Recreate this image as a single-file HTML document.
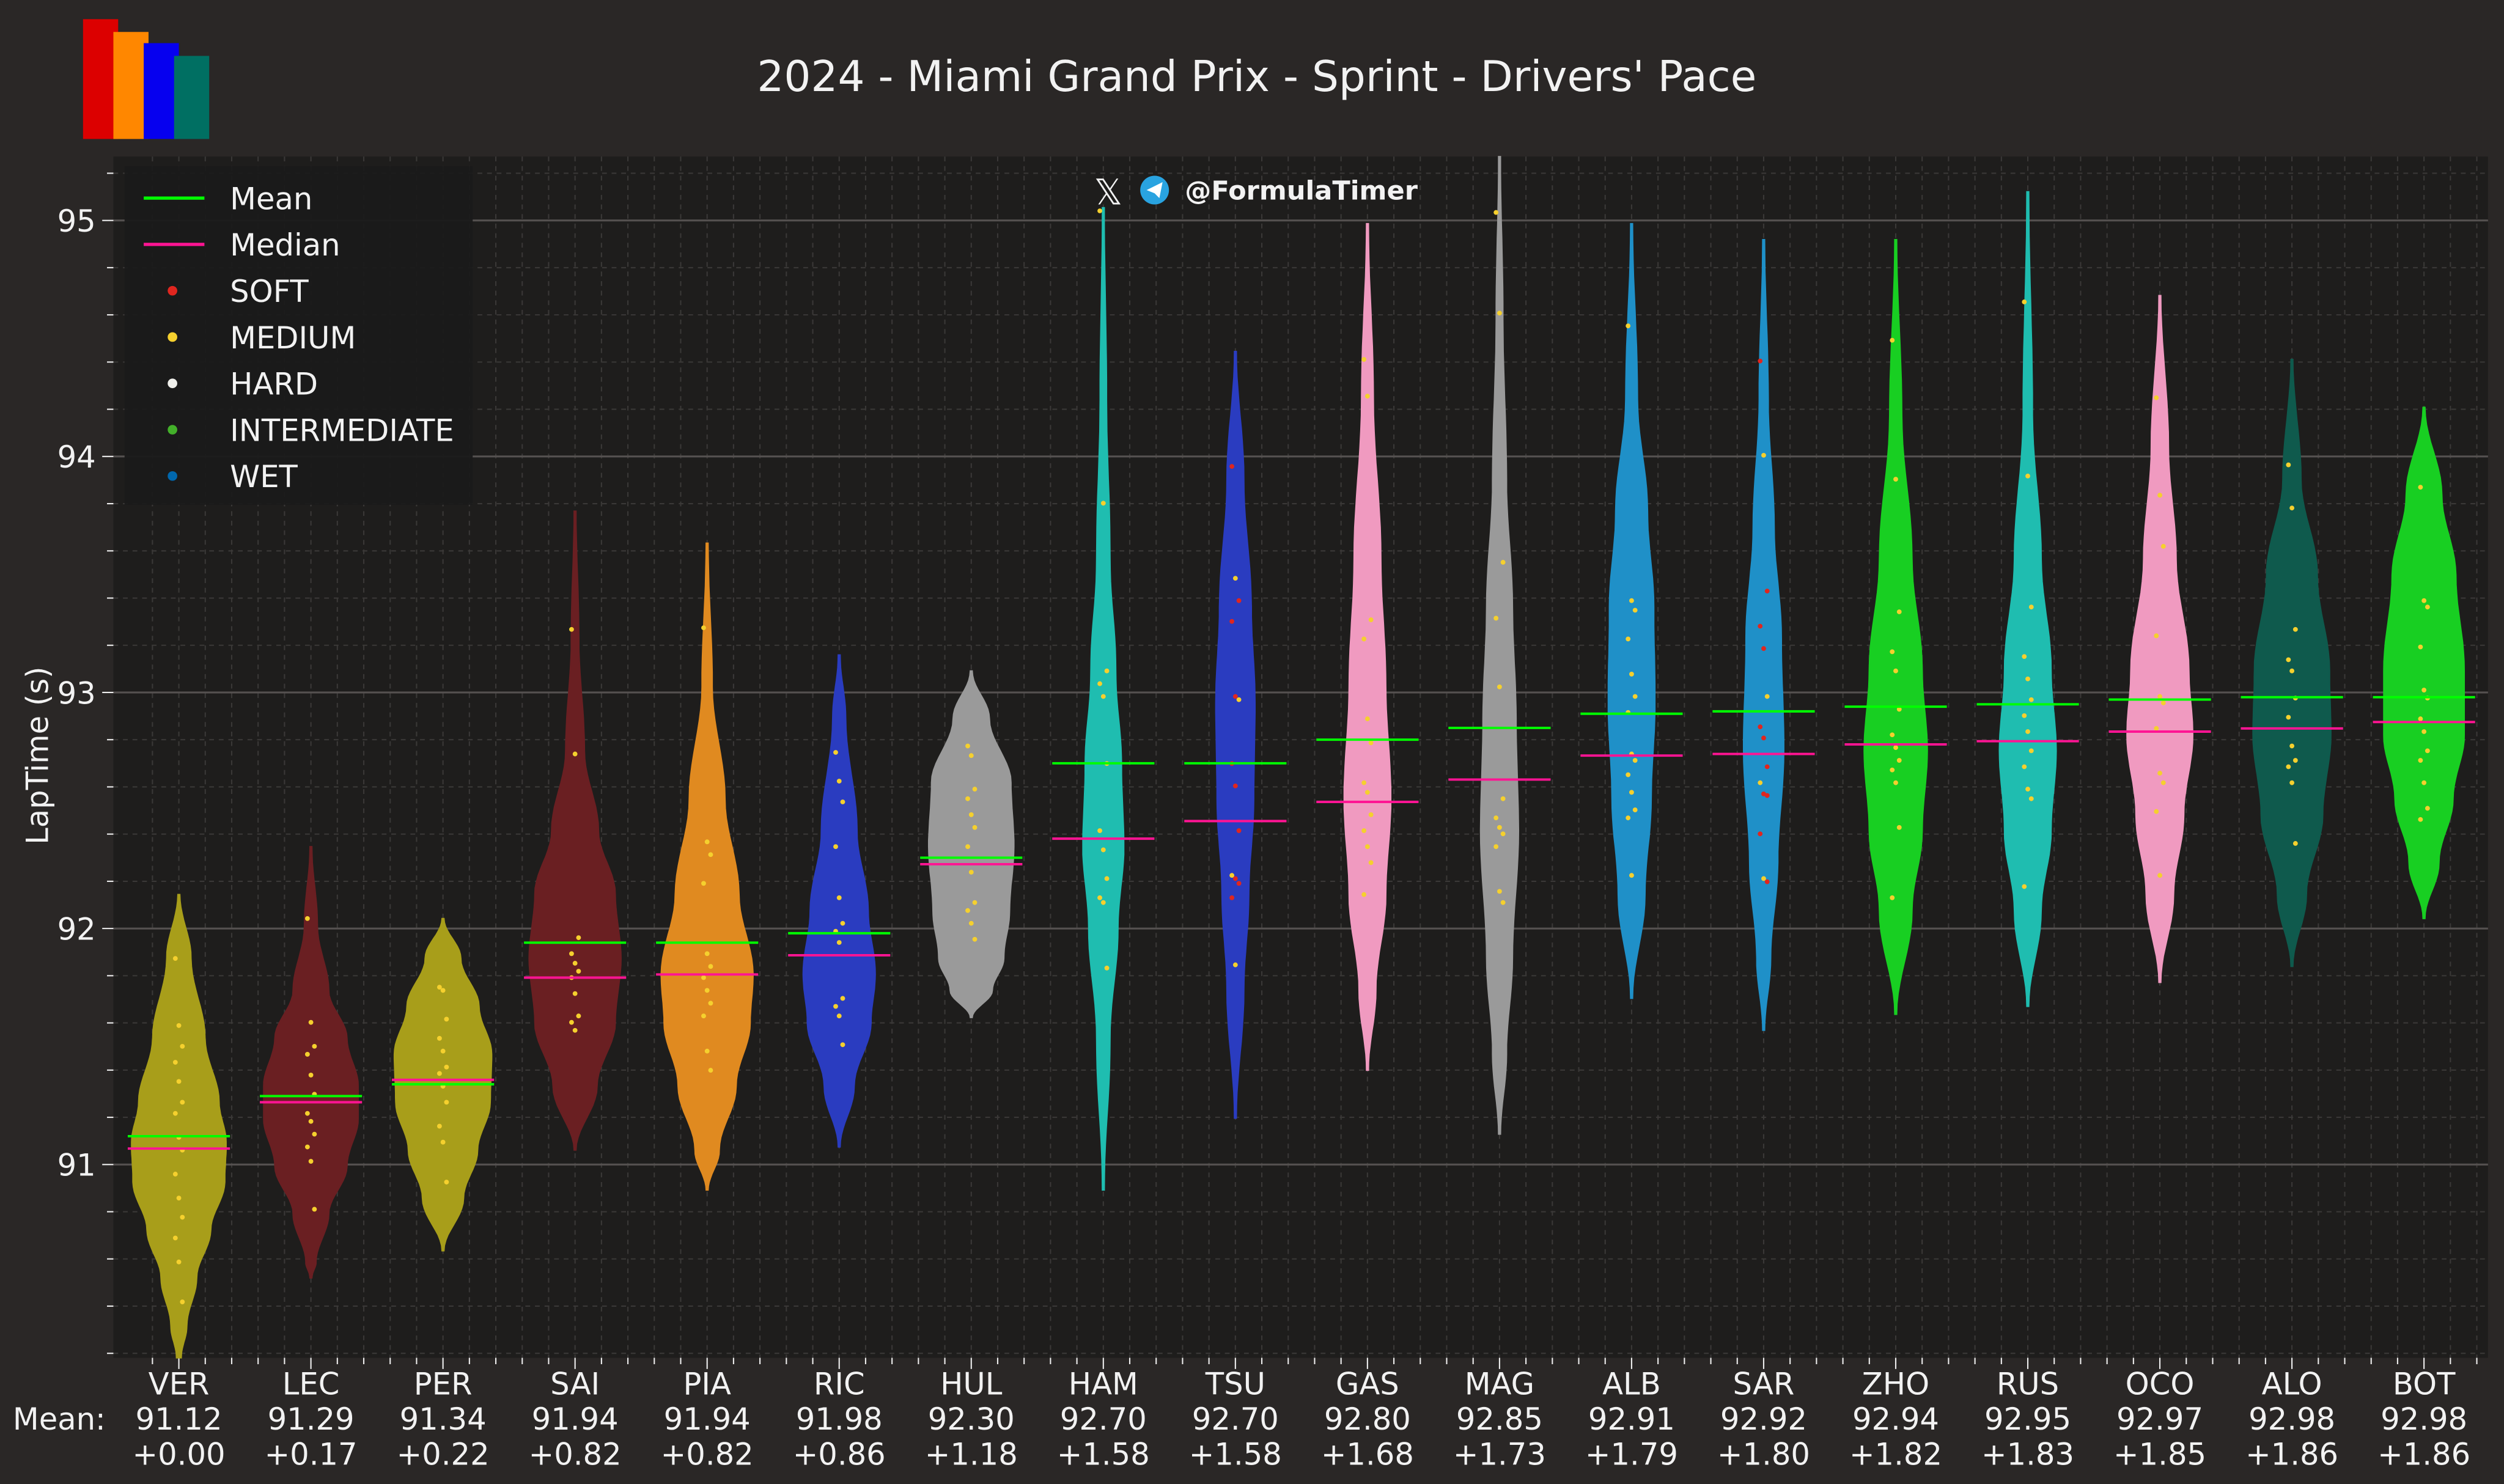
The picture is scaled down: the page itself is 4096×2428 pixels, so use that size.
<!DOCTYPE html>
<html><head><meta charset="utf-8"><style>
html,body{margin:0;padding:0;background:#2a2726;}
svg{display:block;}
text{font-family:"DejaVu Sans","Liberation Sans",sans-serif;fill:#f2f2f2;}
</style></head><body>
<svg id="s" width="4096" height="2428" viewBox="0 0 1568 929" preserveAspectRatio="none" xmlns="http://www.w3.org/2000/svg">
<rect width="1568" height="929" fill="#2a2726"/>
<rect x="52" y="12" width="22" height="75" fill="#dc0000"/>
<rect x="71" y="20" width="22" height="67" fill="#ff8700"/>
<rect x="90" y="27" width="22" height="60" fill="#0600ef"/>
<rect x="109" y="35" width="22" height="52" fill="#006f62"/>
<text x="787" y="57" font-size="26.5" text-anchor="middle">2024 - Miami Grand Prix - Sprint - Drivers' Pace</text>
<rect x="71" y="98" width="1487" height="752" fill="#1e1d1c"/>
<g id="grid"></g>
<g id="vio"></g>
<g id="leg">
<rect x="78" y="104" width="218" height="212" fill="#1a1a1a" opacity="0.95"/>
<line x1="90" y1="124" x2="128" y2="124" stroke="#00ff00" stroke-width="2"/>
<text x="144" y="131" font-size="19">Mean</text>
<line x1="90" y1="153" x2="128" y2="153" stroke="#ff1493" stroke-width="2"/>
<text x="144" y="160" font-size="19">Median</text>
<circle cx="108" cy="182" r="3" fill="#e0261f"/><text x="144" y="189" font-size="19">SOFT</text>
<circle cx="108" cy="211" r="3" fill="#f5d02e"/><text x="144" y="218" font-size="19">MEDIUM</text>
<circle cx="108" cy="240" r="3" fill="#f0f0ec"/><text x="144" y="247" font-size="19">HARD</text>
<circle cx="108" cy="269" r="3" fill="#43b02a"/><text x="144" y="276" font-size="19">INTERMEDIATE</text>
<circle cx="108" cy="298" r="3" fill="#0067ad"/><text x="144" y="305" font-size="19">WET</text>
</g>
<g>
<text x="694" y="128" font-size="22" text-anchor="middle" style="font-family:'DejaVu Sans',sans-serif">𝕏</text>
<circle cx="723" cy="119" r="9" fill="#29a3e0"/>
<path d="M718 119 L728 114 L726 124 L723 121 Z" fill="#fff"/>
<text x="742" y="125" font-size="16.5" font-weight="bold">@FormulaTimer</text>
</g>
<text transform="translate(30,473) rotate(-90)" font-size="19" text-anchor="middle">LapTime (s)</text>
<text x="8" y="895" font-size="19">Mean:</text>
<g id="lab"></g>
</svg>
<script>
const NS="http://www.w3.org/2000/svg";
function el(p,t,a,txt){const e=document.createElementNS(NS,t);for(const k in a)e.setAttribute(k,a[k]);if(txt!==undefined)e.textContent=txt;p.appendChild(e);return e;}
const Y=v=>729-(v-91)*147.75;
const g=document.getElementById('grid'),vg=document.getElementById('vio'),lb=document.getElementById('lab');
const x0=112,dx=82.7;
for(let i=-1;i<=18*5;i++){const x=x0+i*dx/5;if(x<71||x>1558)continue;
 el(g,'line',{x1:x,y1:98,x2:x,y2:850,stroke:'#3a3837','stroke-width':0.8,'stroke-dasharray':'3,3'});
 el(g,'line',{x1:x,y1:850,x2:x,y2:(i%5==0)?857:854,stroke:'#eee','stroke-width':0.8});}
for(let v=90.2;v<95.3;v+=0.2){const y=Y(v);if(y<98||y>850)continue;const maj=Math.abs(v-Math.round(v))<0.01;
 el(g,'line',{x1:71,y1:y,x2:1558,y2:y,stroke:maj?'#555150':'#3a3837','stroke-width':maj?1.2:0.8,'stroke-dasharray':maj?'':'3,3'});
 el(g,'line',{x1:maj?64:67,y1:y,x2:71,y2:y,stroke:'#eee','stroke-width':0.8});
 if(maj)el(g,'text',{x:60,y:y+7,'font-size':19,'text-anchor':'end'},Math.round(v));}
const D=[
['VER','#a89e1a',91.12,'+0.00',719,[[560,0],[600,8],[650,18],[690,28],[715,33],[740,32],[770,22],[800,12],[830,5],[850,1]],'y',[600,642,655,665,677,690,697,712,720,735,750,762,775,790,815]],
['LEC','#6a1f22',91.29,'+0.17',690,[[530,0],[580,4],[620,12],[650,25],[680,33],[700,33],[730,25],[760,12],[790,3],[800,0]],'y',[575,640,655,660,673,685,697,702,710,718,727,757]],
['PER','#a89e1a',91.34,'+0.22',676,[[575,0],[600,12],[630,25],[660,34],[690,33],[720,24],[750,14],[783,0]],'y',[618,620,638,650,658,668,672,680,690,705,715,740]],
['SAI','#6a1f22',91.94,'+0.82',612,[[320,0],[400,2],[470,6],[520,16],[560,28],[600,32],[640,28],[680,15],[720,0]],'y',[394,472,587,597,603,608,612,622,636,640,645]],
['PIA','#e08a20',91.94,'+0.82',610,[[340,0],[430,3],[500,12],[560,22],[610,32],[640,30],[680,20],[720,8],[745,0]],'y',[393,527,535,553,597,605,612,620,628,636,658,670]],
['RIC','#2a3cc0',91.98,'+0.86',598,[[410,0],[450,4],[520,12],[570,20],[610,25],[640,22],[680,10],[718,0]],'y',[471,489,502,530,562,578,583,590,625,630,636,654]],
['HUL','#9a9a9a',92.30,'+1.18',541,[[420,0],[450,12],[490,27],[530,29],[570,26],[600,22],[620,14],[637,0]],'y',[467,473,494,500,510,518,530,546,565,570,578,588]],
['HAM','#1fbdb0',92.70,'+1.58',525,[[130,0],[250,2],[350,5],[420,10],[480,15],[530,17],[580,12],[650,5],[745,0]],'y',[132,315,420,428,436,478,520,532,550,562,565,606]],
['TSU','#2a3cc0',92.70,'+1.58',514,[[220,0],[300,6],[380,12],[440,15],[500,14],[560,10],[620,6],[700,0]],'r',[292,362,376,389,436,438,478,492,520,548,550,553,562,604]],
['GAS','#f09ac0',92.80,'+1.68',502,[[140,0],[250,4],[350,10],[430,14],[500,18],[560,14],[620,6],[670,0]],'y',[225,248,388,400,450,465,490,496,510,520,530,540,560]],
['MAG','#9a9a9a',92.85,'+1.73',488,[[98,0],[200,2],[300,5],[380,10],[450,13],[520,15],[600,10],[660,5],[710,0]],'y',[133,196,352,387,430,500,512,518,522,530,558,565]],
['ALB','#1f90c8',92.91,'+1.79',473,[[140,0],[250,4],[320,12],[380,17],[440,18],[500,15],[560,10],[625,0]],'y',[204,376,382,400,422,436,446,472,476,485,496,507,512,548]],
['SAR','#1f90c8',92.92,'+1.80',472,[[150,0],[250,3],[330,8],[400,14],[470,16],[540,11],[600,5],[645,0]],'r',[226,285,370,392,406,436,455,462,480,490,497,498,522,550,552]],
['ZHO','#18cf22',92.94,'+1.82',466,[[150,0],[260,4],[350,12],[420,20],[470,24],[520,20],[570,12],[635,0]],'y',[213,300,383,408,420,444,460,468,476,482,490,518,562]],
['RUS','#1fbdb0',92.95,'+1.83',464,[[120,0],[260,3],[350,10],[420,18],[470,22],[520,18],[570,10],[630,0]],'y',[189,298,380,411,425,438,448,458,470,480,494,500,555]],
['OCO','#f09ac0',92.97,'+1.85',458,[[185,0],[280,6],[350,12],[420,22],[460,25],[510,18],[560,10],[615,0]],'y',[249,310,342,398,436,440,456,484,490,508,548]],
['ALO','#0f5a4d',92.98,'+1.86',456,[[225,0],[300,6],[360,18],[420,27],[460,28],[510,22],[560,10],[605,0]],'y',[291,318,394,413,420,437,449,467,476,480,490,528]],
['BOT','#18cf22',92.98,'+1.86',452,[[255,0],[310,12],[360,22],[420,28],[460,28],[500,20],[540,10],[575,0]],'y',[305,376,380,405,432,437,450,458,470,476,490,506,513]]
];
const SC=[0.88,0.88,0.88,0.88,0.88,0.88,0.9,0.72,0.78,0.78,0.75,0.78,0.75,0.8,0.78,0.8,0.85,0.88];
D.forEach((d,i)=>{const cx=x0+i*dx;const pts=d[5];const sc=SC[i];
 const dense=[];for(let k=0;k<pts.length-1;k++){const [ya,wa]=pts[k],[yb,wb]=pts[k+1];for(let t=0;t<1;t+=0.1){const s=(1-Math.cos(t*Math.PI))/2;dense.push([ya+(yb-ya)*t,(wa+(wb-wa)*s)*sc]);}}
 const L=pts[pts.length-1];dense.push([L[0],L[1]*sc]);
 let p='M'+dense.map(q=>(cx+q[1]+0.6).toFixed(1)+' '+q[0].toFixed(1)).join(' L');
 p+=' L'+dense.slice().reverse().map(q=>(cx-q[1]-0.6).toFixed(1)+' '+q[0].toFixed(1)).join(' L')+'Z';
 el(vg,'path',{d:p,fill:d[1],stroke:d[1],'stroke-width':0.8});
 const col=d[6]=='r'?'#e0261f':'#f5d02e';
 d[7].forEach((y,j)=>{el(vg,'circle',{cx:cx+((j%3)-1)*2.2,cy:y,r:1.5,fill:(d[6]=='r'&&j%4==1)?'#f5d02e':col});});
 const my=Y(d[2]);
 el(vg,'line',{x1:cx-32,y1:my,x2:cx+32,y2:my,stroke:'#00ff00','stroke-width':1.5});
 el(vg,'line',{x1:cx-32,y1:d[4],x2:cx+32,y2:d[4],stroke:'#ff1493','stroke-width':1.5});
 el(lb,'text',{x:cx,y:873,'font-size':19,'text-anchor':'middle'},d[0]);
 el(lb,'text',{x:cx,y:895,'font-size':19,'text-anchor':'middle'},d[2].toFixed(2));
 el(lb,'text',{x:cx,y:917,'font-size':19,'text-anchor':'middle'},d[3]);
});
</script>
</body></html>
